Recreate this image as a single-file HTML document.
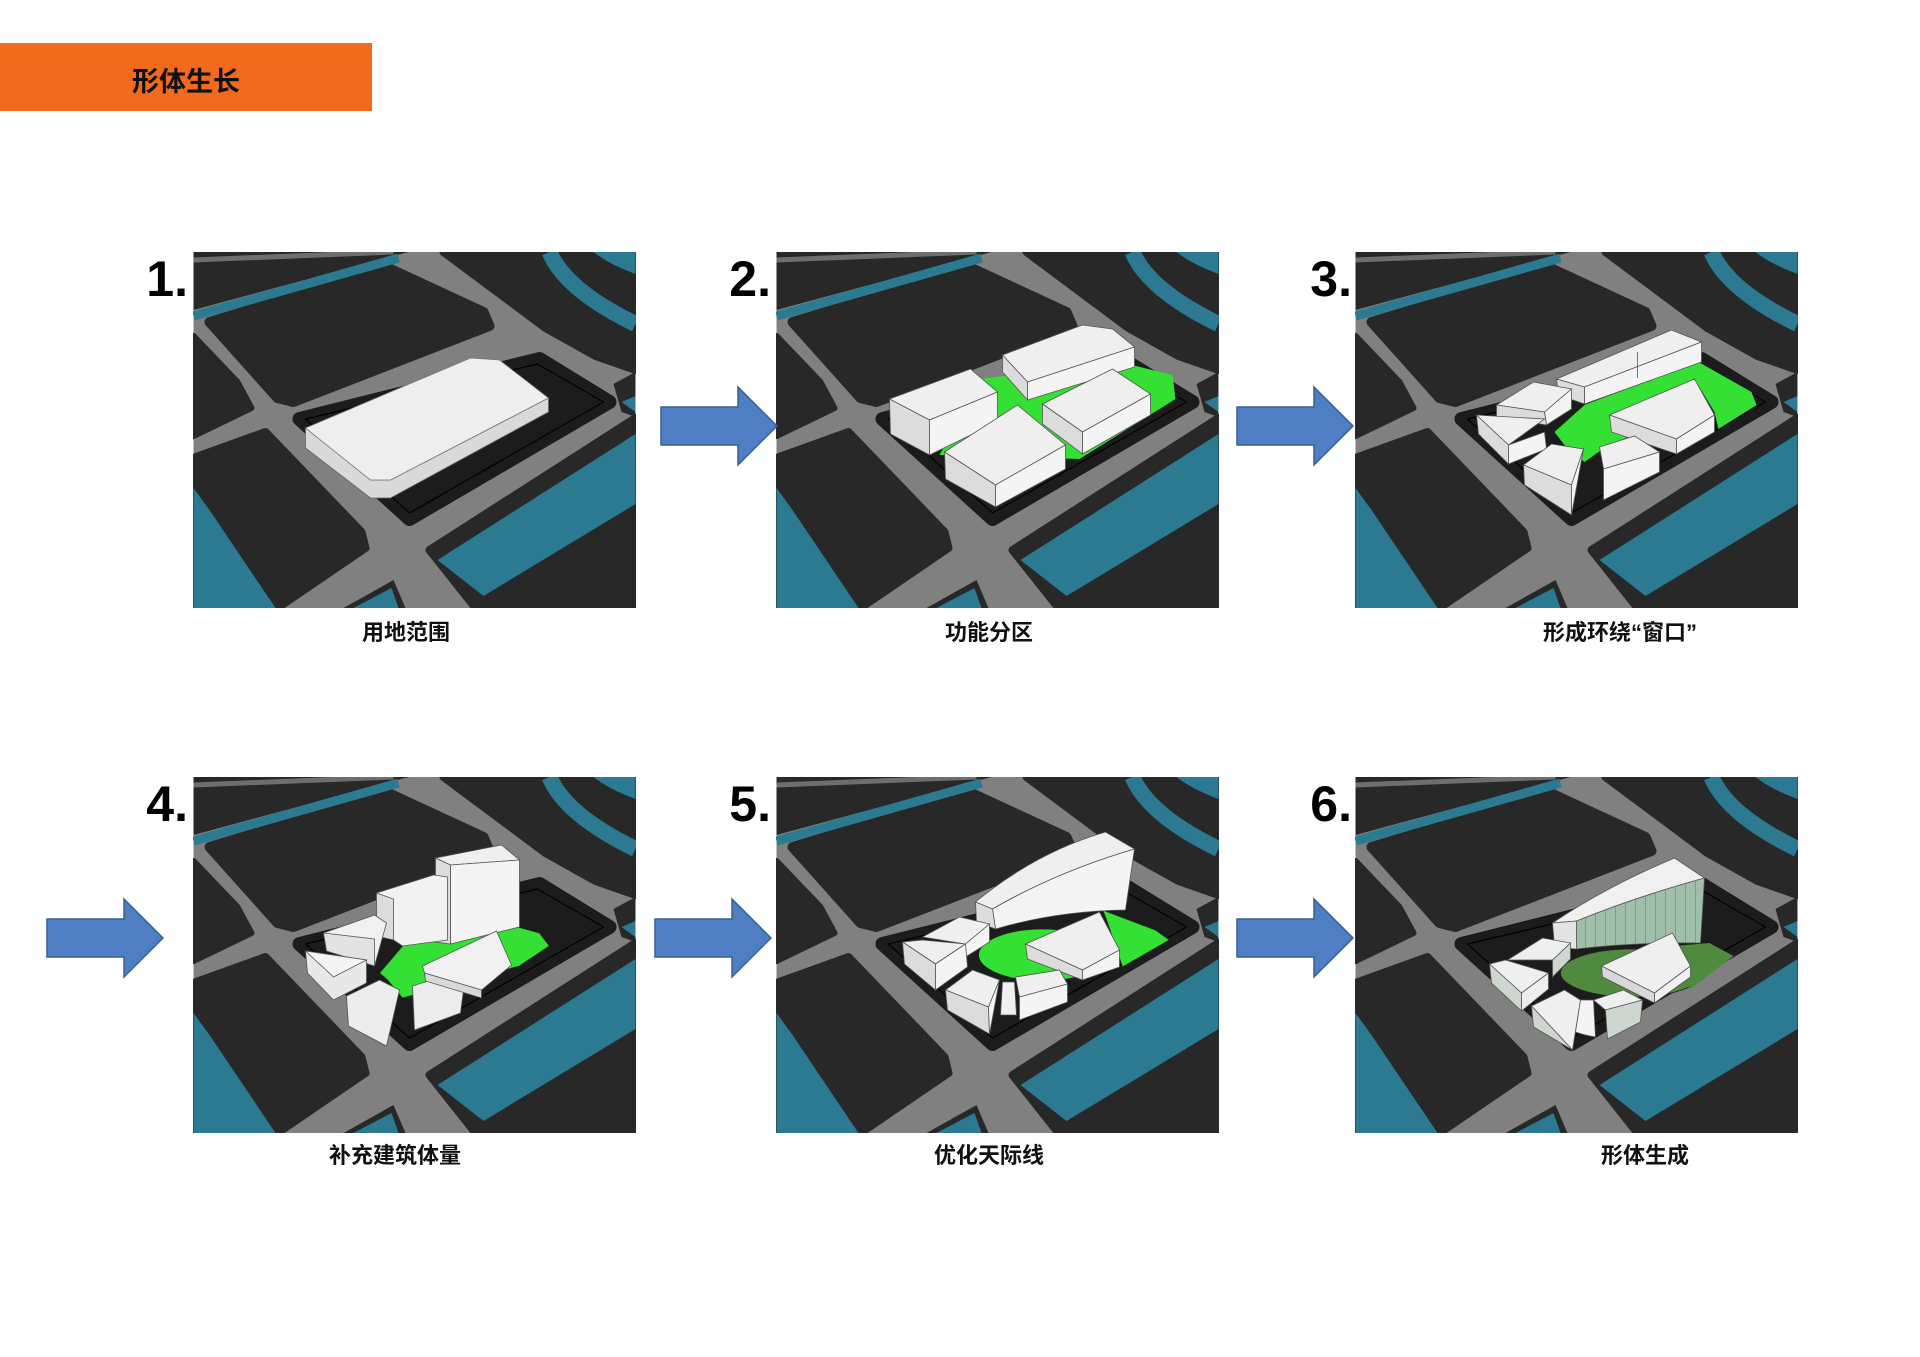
<!DOCTYPE html>
<html><head><meta charset="utf-8">
<style>
html,body{margin:0;padding:0;background:#fff;}
body{width:1920px;height:1357px;position:relative;overflow:hidden;font-family:"Liberation Sans","Noto Sans CJK SC",sans-serif;}
.bar{position:absolute;left:0;top:43px;width:372px;height:68px;background:#f26a1b;}
.bar span{position:absolute;left:0;width:372px;top:17px;text-align:center;font-size:27px;font-weight:bold;color:#111;font-family:"Noto Sans CJK SC","WenQuanYi Zen Hei",sans-serif;}
.num{position:absolute;font-size:50px;font-weight:bold;color:#000;width:60px;text-align:right;line-height:50px;}
.cap{position:absolute;width:400px;text-align:center;font-size:22px;font-weight:bold;color:#111;font-family:"Liberation Sans","Noto Sans CJK SC",sans-serif;}
svg.p{position:absolute;width:443px;height:356px;}
svg.a{position:absolute;left:0;top:0;}
</style></head><body>
<div class="bar"><span>形体生长</span></div>

<svg width="0" height="0" style="position:absolute">
<defs>
<g id="map">
<rect x="0" y="0" width="442" height="356" fill="#808080"/>
<polygon points="0,0 215,0 0,58" fill="#282828"/>
<line x1="0" y1="8" x2="200" y2="0" stroke="#6e6e6e" stroke-width="5"/>
<polygon points="16,70 195,16 290,60 296,74 100,150 84,146" fill="#282828" stroke="#282828" stroke-width="10" stroke-linejoin="round"/>
<polyline points="0,64 205,6" stroke="#2b7a91" stroke-width="9" fill="none"/>
<polygon points="250,0 442,0 442,118 402,104 352,76" fill="#282828" stroke="#282828" stroke-width="8" stroke-linejoin="round"/>
<path d="M356,0 Q372,38 442,72" stroke="#2b7a91" stroke-width="16" fill="none"/>
<path d="M400,0 L442,0 L442,22 Q415,12 400,0Z" fill="#2b7a91"/>
<polygon points="0,84 44,130 58,156 0,184" fill="#282828" stroke="#282828" stroke-width="6" stroke-linejoin="round"/>
<polygon points="0,206 72,180 168,280 172,296 84,356 0,356" fill="#282828" stroke="#282828" stroke-width="8" stroke-linejoin="round"/>
<polygon points="0,236 0,356 82,356 16,258" fill="#2b7a91"/>
<polygon points="150,356 200,328 212,356" fill="#282828"/>
<polygon points="160,356 198,336 205,356" fill="#2b7a91"/>
<polygon points="236,298 442,166 442,356 282,356" fill="#282828" stroke="#282828" stroke-width="8" stroke-linejoin="round"/>
<polygon points="244,308 442,182 442,252 290,344" fill="#2b7a91"/>
<polygon points="420,132 442,120 442,165 428,160" fill="#282828"/>
<polygon points="428,150 442,144 442,160" fill="#2b7a91"/>
<polygon points="106,167 346,107 416,150 216,267" fill="#1c1c1c" stroke="#1c1c1c" stroke-width="14" stroke-linejoin="round"/>
<polygon points="112,167 344,112 410,150 216,261" fill="none" stroke="#000" stroke-width="1.2" stroke-linejoin="round"/>
</g>
</defs>
</svg>

<!-- Panel 1 -->
<svg class="p" style="left:193px;top:252px" viewBox="0 0 442 356">
<use href="#map"/>
<g transform="translate(-2,-12)">
<polygon points="114,188 179,240 199,240 357,158 357,172 199,258 179,258 114,208" fill="#d9d9d9" stroke="#666" stroke-width="0.8"/>
<polygon points="114,188 279,118 308,120 357,158 199,240 179,240" fill="#eeeeee" stroke="#777" stroke-width="0.8"/>
</g>
</svg>

<!-- Panel 2 -->
<svg class="p" style="left:776px;top:252px" viewBox="0 0 442 356">
<use href="#map"/>
<polygon points="203,127 343,110 396,123 399,147 303,207 163,203" fill="#33e033"/>
<g stroke="#555" stroke-width="0.8">
<polygon points="226,103 306,73 336,77 358,95 251,130" fill="#efefef"/>
<polygon points="226,103 251,130 251,148 226,120" fill="#dcdcdc"/>
<polygon points="251,130 358,95 358,115 251,148" fill="#f4f4f4"/>
<polygon points="113,147 194,117 221,140 153,168" fill="#efefef"/>
<polygon points="113,147 153,168 153,203 114,182" fill="#dcdcdc"/>
<polygon points="153,168 221,140 221,170 153,203" fill="#f4f4f4"/>
<polygon points="266,152 336,117 374,142 306,180" fill="#efefef"/>
<polygon points="266,152 306,180 306,202 266,172" fill="#dcdcdc"/>
<polygon points="306,180 374,142 374,163 306,202" fill="#f4f4f4"/>
<polygon points="168,200 241,153 289,193 219,233" fill="#efefef"/>
<polygon points="168,200 219,233 219,255 169,227" fill="#dcdcdc"/>
<polygon points="219,233 289,193 289,217 219,255" fill="#f4f4f4"/>
</g>
</svg>

<!-- Panel 3 -->
<svg class="p" style="left:1355px;top:252px" viewBox="0 0 442 356">
<use href="#map"/>
<polygon points="199,180 229,153 343,110 396,140 401,153 363,177 359,160 339,127 256,163 276,183 243,200 229,210 209,193" fill="#33e033"/>
<g stroke="#555" stroke-width="0.8">
<polygon points="201,127 316,78 346,90 229,135" fill="#efefef"/>
<polygon points="229,135 346,90 346,110 229,152" fill="#f4f4f4"/>
<polygon points="201,127 229,135 229,152 203,143" fill="#dcdcdc"/>
<line x1="282" y1="100" x2="282" y2="126"/>
<polygon points="254,163 339,127 359,163 321,187" fill="#efefef"/>
<polygon points="254,163 321,187 321,202 256,180" fill="#dcdcdc"/>
<polygon points="321,187 359,163 359,180 321,202" fill="#f4f4f4"/>
<polygon points="141,153 178,130 216,137 189,160" fill="#efefef"/>
<polygon points="189,160 216,137 216,157 191,173" fill="#f4f4f4"/>
<polygon points="141,153 189,160 191,173 141,165" fill="#dcdcdc"/>
<polygon points="121,163 189,167 153,193" fill="#efefef"/>
<polygon points="121,163 153,193 153,212 123,182" fill="#dcdcdc"/>
<polygon points="153,193 189,180 191,197 153,212" fill="#f4f4f4"/>
<polygon points="168,213 196,192 228,197 216,233" fill="#efefef"/>
<polygon points="168,213 216,233 216,263 169,233" fill="#dcdcdc"/>
<polygon points="216,233 228,197 216,263" fill="#f4f4f4"/>
<polygon points="244,195 279,184 304,200 248,217" fill="#efefef"/>
<polygon points="248,217 304,200 304,220 248,248" fill="#f4f4f4"/>
</g>
</svg>

<!-- Panel 4 -->
<svg class="p" style="left:193px;top:777px" viewBox="0 0 442 356">
<use href="#map"/>
<polygon points="186,196 209,169 254,153 310,146 346,156 356,169 326,189 209,221 194,203" fill="#33e033" stroke="#222" stroke-width="0.8"/>
<g stroke="#555" stroke-width="0.8">
<polygon points="242,81 308,68 326,83 257,88" fill="#efefef"/>
<polygon points="257,88 326,83 326,150 257,167" fill="#f4f4f4"/>
<polygon points="242,81 257,88 257,167 242,165" fill="#dcdcdc"/>
<polygon points="183,116 240,98 254,100 254,163 209,169 200,163" fill="#f2f2f2"/>
<polygon points="183,116 200,122 200,163 183,159" fill="#dcdcdc"/>
<polygon points="130,156 181,138 193,146 181,189 133,174" fill="#f0f0f0"/>
<polygon points="130,156 181,162 181,189 133,174" fill="#e2e2e2"/>
<polygon points="112,174 173,183 173,206 140,223 114,196" fill="#e8e8e8"/>
<polygon points="112,174 173,183 140,200" fill="#f4f4f4"/>
<polygon points="153,219 186,203 206,213 193,269 155,249" fill="#ececec"/>
<polygon points="219,209 250,199 270,213 267,236 221,253" fill="#ececec"/>
<polygon points="229,189 303,154 318,188 288,213 231,196" fill="#f0f0f0"/>
<polygon points="231,196 288,213 288,221 232,204" fill="#d8d8d8"/>
</g>
</svg>

<!-- Panel 5 -->
<svg class="p" style="left:776px;top:777px" viewBox="0 0 442 356">
<use href="#map"/>
<ellipse cx="266" cy="178" rx="64" ry="26" fill="#33e033" stroke="#222" stroke-width="0.8"/>
<polygon points="326,133 379,153 393,163 346,190 329,140" fill="#33e033" stroke="#222" stroke-width="0.8"/>
<g stroke="#555" stroke-width="0.8">
<path d="M199,125 Q260,75 329,55 L358,72 Q280,95 216,132 Z" fill="#efefef"/>
<path d="M216,132 Q280,95 358,72 L349,133 Q280,134 219,152 Z" fill="#f4f4f4"/>
<polygon points="199,125 216,132 219,152 200,145" fill="#dcdcdc"/>
<polygon points="249,167 323,135 343,173 306,193" fill="#efefef"/>
<polygon points="249,167 306,193 306,203 251,182" fill="#dcdcdc"/>
<polygon points="306,193 343,173 343,190 306,203" fill="#f4f4f4"/>
<polygon points="146,160 183,140 213,147 189,167" fill="#efefef"/>
<polygon points="189,167 213,147 213,165 189,180" fill="#f4f4f4"/>
<polygon points="126,165 146,163 189,167 159,187" fill="#efefef"/>
<polygon points="159,187 189,167 191,190 159,213" fill="#f4f4f4"/>
<polygon points="126,165 159,187 159,213 128,187" fill="#dcdcdc"/>
<polygon points="169,213 196,193 223,203 212,230" fill="#efefef"/>
<polygon points="169,213 212,230 213,257 171,233" fill="#dcdcdc"/>
<polygon points="212,230 223,203 213,257" fill="#f4f4f4"/>
<polygon points="226,205 238,205 240,238 224,238" fill="#f0f0f0"/>
<polygon points="239,200 283,193 291,207 243,220" fill="#efefef"/>
<polygon points="243,220 291,207 291,225 243,243" fill="#f4f4f4"/>
</g>
</svg>

<!-- Panel 6 -->
<svg class="p" style="left:1355px;top:777px" viewBox="0 0 442 356">
<use href="#map"/>
<ellipse cx="276" cy="196" rx="71" ry="24" fill="#4f8a3e" stroke="#222" stroke-width="0.8"/>
<polygon points="319,169 354,166 378,179 335,212" fill="#4f8a3e"/>
<g stroke="#555" stroke-width="0.8">
<path d="M197,146 Q250,110 319,81 L349,101 Q280,120 221,144 Z" fill="#f0f0f0"/>
<path d="M221,144 Q280,120 349,101 L345,166 Q280,165 221,172 Z" fill="#9fbfa8"/>
<g stroke="#6f8f78" stroke-width="0.7">
<line x1="230" y1="141" x2="230" y2="171"/><line x1="240" y1="137" x2="240" y2="170"/><line x1="250" y1="133" x2="250" y2="169"/><line x1="260" y1="129" x2="260" y2="168"/><line x1="270" y1="125" x2="270" y2="167"/><line x1="280" y1="121" x2="280" y2="166"/><line x1="290" y1="118" x2="290" y2="166"/><line x1="300" y1="115" x2="300" y2="166"/><line x1="310" y1="112" x2="310" y2="166"/><line x1="320" y1="109" x2="320" y2="166"/><line x1="330" y1="106" x2="330" y2="166"/><line x1="340" y1="103" x2="340" y2="166"/>
</g>
<polygon points="197,146 221,144 221,172 199,170" fill="#e4e4e4"/>
<polygon points="246,189 317,156 335,189 299,216" fill="#efefef"/>
<polygon points="246,189 299,216 299,226 247,200" fill="#d8d8d8"/>
<polygon points="299,216 335,189 335,200 299,226" fill="#f0f0f0"/>
<polygon points="152,183 187,161 215,166 197,183" fill="#efefef"/>
<polygon points="197,183 215,166 215,182 197,200" fill="#cfd6d0"/>
<polygon points="134,187 150,183 193,196 166,216" fill="#efefef"/>
<polygon points="134,187 166,216 166,234 136,206" fill="#cfd6d0"/>
<polygon points="166,216 193,196 193,212 166,234" fill="#eeeeee"/>
<polygon points="176,229 209,213 225,223 217,273" fill="#efefef"/>
<polygon points="176,229 217,273 178,250" fill="#cfd6d0"/>
<path d="M225,223 L238,223 L240,260 Q228,258 220,255 Z" fill="#f4f4f4"/>
<polygon points="238,223 268,213 287,223 250,233" fill="#efefef"/>
<polygon points="250,233 287,223 285,245 252,262" fill="#cfd6d0"/>
</g>
</svg>

<div class="num" style="left:128px;top:254px">1.</div>
<div class="num" style="left:711px;top:254px">2.</div>
<div class="num" style="left:1292px;top:254px">3.</div>
<div class="num" style="left:128px;top:779px">4.</div>
<div class="num" style="left:711px;top:779px">5.</div>
<div class="num" style="left:1292px;top:779px">6.</div>

<div class="cap" style="left:206px;top:615px">用地范围</div>
<div class="cap" style="left:789px;top:615px">功能分区</div>
<div class="cap" style="left:1420px;top:615px">形成环绕“窗口”</div>
<div class="cap" style="left:195px;top:1138px">补充建筑体量</div>
<div class="cap" style="left:789px;top:1138px">优化天际线</div>
<div class="cap" style="left:1445px;top:1138px">形体生成</div>

<svg class="a" width="1920" height="1357">
<defs><polygon id="arr" points="0,-19 77,-19 77,-39 116,0 77,39 77,19 0,19" fill="#4f7ec2" stroke="#3a5f96" stroke-width="1.5"/></defs>
<use href="#arr" x="661" y="426"/>
<use href="#arr" x="1237" y="426"/>
<use href="#arr" x="47" y="938"/>
<use href="#arr" x="655" y="938"/>
<use href="#arr" x="1237" y="938"/>
</svg>
</body></html>
